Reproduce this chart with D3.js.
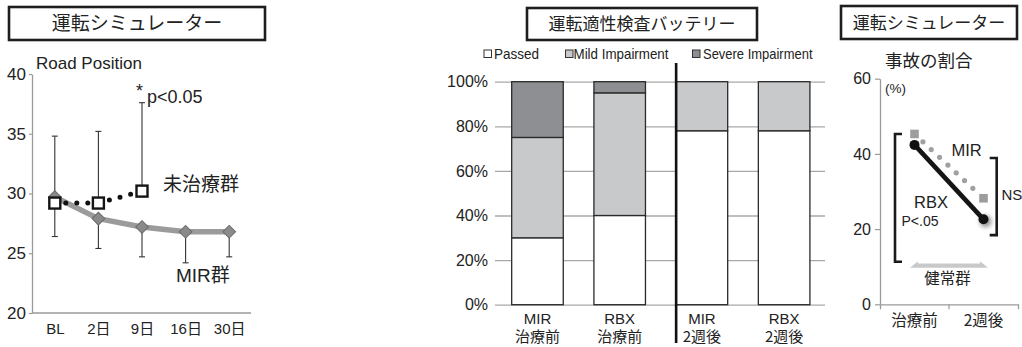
<!DOCTYPE html>
<html><head><meta charset="utf-8">
<script src="https://cdn.jsdelivr.net/npm/d3@7"></script>
<style>
body{margin:0;background:#fff;}
svg{display:block;}
</style></head><body>
<svg id="c" width="1022" height="347"></svg>
<script>
// ---------- DATA ----------
// Panel 1: driving simulator – road position
const simDays = ["BL", "2日", "9日", "16日", "30日"];
const mirRoad = [29.7, 27.9, 27.2, 26.8, 26.8];
const mirRoadLow = [26.4, 25.4, 24.7, 24.2, 24.7];
const untreatedDays = ["BL", "2日", "9日"];
const untreatedRoad = [29.2, 29.2, 30.2];
const untreatedRoadHigh = [34.8, 35.2, 37.6];
const roadTicks = [20, 25, 30, 35, 40];

// Panel 2: driving aptitude battery
const batteryGroups = ["MIR|治療前", "RBX|治療前", "MIR|2週後", "RBX|2週後"];
const passedPct = [30, 40, 78, 78];
const mildPct = [45, 55, 22, 22];
const severePct = [25, 5, 0, 0];
const seriesNames = ["Passed", "Mild Impairment", "Severe Impairment"];
const seriesColors = ["#ffffff", "#c8c9cb", "#8e8f92"];
const pctTicks = [0, 20, 40, 60, 80, 100];

// Panel 3: accident rate
const accidentTimes = ["治療前", "2週後"];
const rbxAccident = [42.4, 22.6];
const mirAccident = [45.3, 28.2];
const accidentTicks = [0, 20, 40, 60];

// ---------- DRAWING ----------
const LAT = '"Liberation Sans", Arial, "Noto Sans CJK JP", sans-serif';
const JP = '"Noto Sans CJK JP", sans-serif';
const INK = "#222";
const AXIS = "#9a9a9a";
const svg = d3.select("#c");

const defs = svg.append("defs");
defs.append("filter").attr("id", "blur").attr("x", "-1").attr("y", "-1").attr("width", "3").attr("height", "3")
  .append("feGaussianBlur").attr("stdDeviation", 2.2);

function titleBox(x0, y0, x1, y1, text, size) {
  svg.append("rect").attr("x", x0).attr("y", y0).attr("width", x1 - x0).attr("height", y1 - y0)
    .attr("fill", "#fff").attr("stroke", "#1e1e1e").attr("stroke-width", 2.6);
  svg.append("text").attr("x", (x0 + x1) / 2).attr("y", (y0 + y1) / 2).attr("dy", "0.36em")
    .attr("text-anchor", "middle").attr("font-family", JP).attr("font-size", size).attr("fill", INK).text(text);
}
function styleAxis(g, size) {
  g.select(".domain").attr("stroke", AXIS).attr("stroke-width", 1.3);
  g.selectAll(".tick line").attr("stroke", AXIS).attr("stroke-width", 1.2);
  g.selectAll("text").attr("font-family", LAT).attr("font-size", size).attr("fill", INK);
}
function label(x, y, t, size, opts = {}) {
  return svg.append("text").attr("x", x).attr("y", y).attr("font-family", opts.font || LAT)
    .attr("font-size", size).attr("fill", opts.fill || INK).attr("text-anchor", opts.anchor || "start").text(t);
}

// ===== Panel 1 =====
titleBox(9, 7, 265, 40, "運転シミュレーター", 19);
const y1 = d3.scaleLinear().domain([20, 40]).range([313, 74]);
const x1 = d3.scalePoint().domain(simDays).range([33, 251]).padding(0.5);

const ay1 = svg.append("g").attr("transform", "translate(32,0)")
  .call(d3.axisLeft(y1).tickValues(roadTicks).tickSize(3).tickSizeOuter(0).tickPadding(3));
styleAxis(ay1, 17);
const ax1 = svg.append("g").attr("transform", "translate(0,313)")
  .call(d3.axisBottom(x1).tickSize(0).tickPadding(10));
ax1.select(".domain").attr("d", "M32,0H251");
styleAxis(ax1, 15);

// error bars
function errBar(x, yFrom, yTo) {
  svg.append("line").attr("x1", x).attr("x2", x).attr("y1", yFrom).attr("y2", yTo).attr("stroke", "#333").attr("stroke-width", 1.1);
  svg.append("line").attr("x1", x - 3).attr("x2", x + 3).attr("y1", yTo).attr("y2", yTo).attr("stroke", "#333").attr("stroke-width", 1.1);
}
simDays.forEach((d, i) => errBar(x1(d), y1(mirRoad[i]), y1(mirRoadLow[i])));
untreatedDays.forEach((d, i) => errBar(x1(d), y1(untreatedRoad[i]), y1(untreatedRoadHigh[i])));

const line1 = d3.line().x(d => x1(d[0])).y(d => y1(d[1]));
svg.append("path").datum(simDays.map((d, i) => [d, mirRoad[i]])).attr("d", line1)
  .attr("fill", "none").attr("stroke", "#9b9b9b").attr("stroke-width", 5.5).attr("stroke-linejoin", "round");
svg.append("path").datum(untreatedDays.map((d, i) => [d, untreatedRoad[i]])).attr("d", line1)
  .attr("fill", "none").attr("stroke", "#111").attr("stroke-width", 5).attr("stroke-linecap", "round")
  .attr("stroke-dasharray", "0 11");
svg.selectAll(".dia").data(simDays).join("rect").attr("class", "dia")
  .attr("x", -4.5).attr("y", -4.5).attr("width", 9).attr("height", 9)
  .attr("transform", (d, i) => `translate(${x1(d)},${y1(mirRoad[i])}) rotate(45)`)
  .attr("fill", "#8a8a8a").attr("stroke", "#6a6a6a").attr("stroke-width", 1);
svg.selectAll(".sq").data(untreatedDays).join("rect").attr("class", "sq")
  .attr("x", d => x1(d) - 5.5).attr("y", (d, i) => y1(untreatedRoad[i]) - 5.5).attr("width", 11).attr("height", 11)
  .attr("fill", "#fff").attr("stroke", "#151515").attr("stroke-width", 2.4);

label(36, 69, "Road Position", 17);
label(136, 97, "*", 18);
label(147, 103, "p<0.05", 18);
label(163, 191, "未治療群", 19, { font: JP });
label(176, 282, "MIR群", 19);

// ===== Panel 2 =====
titleBox(527, 8, 757, 40, "運転適性検査バッテリー", 17);
const legX = [484, 565.5, 692.5];
const legTX = [494, 573.5, 703];
const legW = [45, 95, 109.5];
seriesNames.forEach((n, i) => {
  svg.append("rect").attr("x", legX[i]).attr("y", 50).attr("width", 7.5).attr("height", 7.5)
    .attr("fill", seriesColors[i]).attr("stroke", "#333").attr("stroke-width", 1);
  label(legTX[i], 58.5, n, 14.5).attr("textLength", legW[i]).attr("lengthAdjust", "spacingAndGlyphs");
});

const y2 = d3.scaleLinear().domain([0, 100]).range([304.7, 81.7]);
const x2 = d3.scaleBand().domain(batteryGroups).range([496.4, 825.2]).paddingInner(0.373).paddingOuter(0.186);
const ay2 = svg.append("g").attr("transform", "translate(495,0)")
  .call(d3.axisLeft(y2).tickValues(pctTicks).tickFormat(d => d + "%").tickSize(-330).tickPadding(7));
ay2.select(".domain").remove();
styleAxis(ay2, 16);
ay2.selectAll(".tick line").attr("stroke", "#a8a8a8").attr("stroke-width", 1.3);

const table = batteryGroups.map((g, i) => ({ g, Passed: passedPct[i], "Mild Impairment": mildPct[i], "Severe Impairment": severePct[i] }));
const stacked = d3.stack().keys(seriesNames)(table);
stacked.forEach((s, k) => {
  svg.append("g").selectAll("rect").data(s.filter(d => d[1] > d[0])).join("rect")
    .attr("x", d => x2(d.data.g)).attr("width", x2.bandwidth())
    .attr("y", d => y2(d[1])).attr("height", d => y2(d[0]) - y2(d[1]))
    .attr("fill", seriesColors[k]).attr("stroke", "#2a2a2a").attr("stroke-width", 1.3);
});
// category labels (two lines) through the band scale
const ax2 = svg.append("g").attr("transform", "translate(0,304.7)")
  .call(d3.axisBottom(x2).tickSize(0).tickPadding(0).tickFormat(d => d.split("|")[0]));
ax2.select(".domain").remove();
styleAxis(ax2, 15);
ax2.selectAll(".tick text").attr("dy", null).attr("y", 19.8);
const ax2b = svg.append("g").attr("transform", "translate(0,304.7)")
  .call(d3.axisBottom(x2).tickSize(0).tickPadding(0).tickFormat(d => d.split("|")[1]));
ax2b.select(".domain").remove();
styleAxis(ax2b, 15);
ax2b.selectAll(".tick text").attr("dy", null).attr("y", 37.8).attr("font-family", JP);
svg.append("line").attr("x1", x2(batteryGroups[2])).attr("x2", x2(batteryGroups[2]))
  .attr("y1", 63).attr("y2", 343).attr("stroke", "#111").attr("stroke-width", 2.6);

// ===== Panel 3 =====
titleBox(841, 6, 1017, 39, "運転シミュレーター", 17);
const y3 = d3.scaleLinear().domain([0, 60]).range([304.3, 78.7]);
const x3 = d3.scaleBand().domain(accidentTimes).range([880, 1018]);
const cx3 = d => x3(d) + x3.bandwidth() / 2;
const ay3 = svg.append("g").attr("transform", "translate(880,0)")
  .call(d3.axisLeft(y3).tickValues(accidentTicks).tickSize(5).tickSizeOuter(0).tickPadding(4));
styleAxis(ay3, 16);
const ax3 = svg.append("g").attr("transform", "translate(0,304.3)")
  .call(d3.axisBottom(x3).tickSize(0).tickSizeOuter(5).tickPadding(11));
styleAxis(ax3, 15.5);
ax3.selectAll(".tick text").attr("font-family", JP);
svg.append("line").attr("x1", x3(accidentTimes[1])).attr("x2", x3(accidentTimes[1]))
  .attr("y1", 304.3).attr("y2", 309.3).attr("stroke", AXIS).attr("stroke-width", 1.2);

label(885, 67, "事故の割合", 17.5, { font: JP });
label(885, 93, "(%)", 13.5);

// brackets
const lbX = cx3(accidentTimes[0]) - 19.5, rbX = cx3(accidentTimes[1]) + 13.2;
svg.append("path").attr("d", `M${lbX + 7},${y3(45.3)}H${lbX}V${y3(11.3)}H${lbX + 7}`)
  .attr("fill", "none").attr("stroke", "#1a1a1a").attr("stroke-width", 2.6);
svg.append("path").attr("d", `M${rbX - 7},${y3(38.9)}H${rbX}V${y3(18.4)}H${rbX - 7}`)
  .attr("fill", "none").attr("stroke", "#1a1a1a").attr("stroke-width", 2.6);

// healthy-group arrow
{
  const ax0 = cx3(accidentTimes[0]) - 4.5, axe = cx3(accidentTimes[1]) + 4.5, ay = y3(10.5);
  svg.append("path").attr("d",
    `M${ax0},${ay + 3}L${ax0 + 8},${ay - 3.5}L${ax0 + 8},${ay - 1.3}H${axe - 8}V${ay - 3.5}L${axe},${ay + 3}Z`)
    .attr("fill", "#c9c9c9");
  label((ax0 + axe) / 2 - 1.5, ay + 19, "健常群", 15.5, { font: JP, anchor: "middle" });
}

// MIR dotted line
{
  const p0 = [cx3(accidentTimes[0]), y3(mirAccident[0])], p1 = [cx3(accidentTimes[1]), y3(mirAccident[1])];
  const len = Math.hypot(p1[0] - p0[0], p1[1] - p0[1]);
  const at = t => [p0[0] + (p1[0] - p0[0]) * t, p0[1] + (p1[1] - p0[1]) * t];
  const a = at(11.5 / len), b = at(1 - 14.5 / len);
  svg.append("path").attr("d", `M${a[0]},${a[1]}L${b[0]},${b[1]}`)
    .attr("stroke", "#a0a0a0").attr("stroke-width", 5.2).attr("stroke-linecap", "round")
    .attr("stroke-dasharray", `0 ${Math.hypot(b[0] - a[0], b[1] - a[1]) / 6 - 0.01}`);
}
// RBX line
svg.append("circle").attr("cx", cx3(accidentTimes[1]) + 2).attr("cy", y3(rbxAccident[1]) + 2).attr("r", 6)
  .attr("fill", "#999").attr("filter", "url(#blur)");
svg.append("path").datum(accidentTimes.map((d, i) => [d, rbxAccident[i]]))
  .attr("d", d3.line().x(d => cx3(d[0])).y(d => y3(d[1])))
  .attr("stroke", "#151515").attr("stroke-width", 4.6).attr("fill", "none");
svg.selectAll(".msq").data(accidentTimes).join("rect").attr("class", "msq")
  .attr("x", d => cx3(d) - 4.3).attr("y", (d, i) => y3(mirAccident[i]) - 4.3).attr("width", 8.6).attr("height", 8.6)
  .attr("fill", "#9d9d9d");
svg.selectAll(".rc").data(accidentTimes).join("circle").attr("class", "rc")
  .attr("cx", d => cx3(d)).attr("cy", (d, i) => y3(rbxAccident[i])).attr("r", 5)
  .attr("fill", "#111");

label(951.5, 156, "MIR", 16.5);
label(914, 208, "RBX", 16.5);
label(901.5, 226, "P<.05", 14);
label(1001.5, 200, "NS", 15);
</script>
</body></html>
